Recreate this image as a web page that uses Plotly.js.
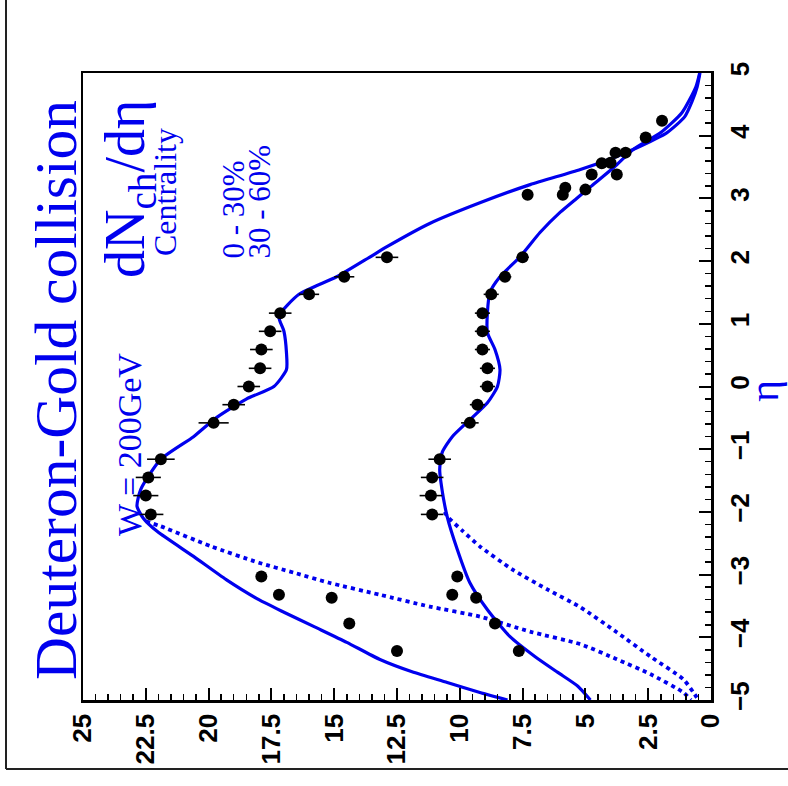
<!DOCTYPE html>
<html>
<head>
<meta charset="utf-8">
<script src="https://cdn.plot.ly/plotly-3.0.1.min.js"></script>
<style>
html,body{margin:0;padding:0;background:#fff;width:788px;height:786px;overflow:hidden;}
#plot{position:absolute;left:0;top:0;width:788px;height:786px;}
</style>
</head>
<body>
<div id="plot"></div>
<script>
// ---- data: pseudorapidity eta and dN_ch/d eta ----
// 0-30% centrality measured points
const etaA = [-4.22, -3.78, -3.37, -3.32, -3.03, -2.04, -1.74, -1.45, -1.16, -0.58, -0.29, 0.0, 0.29, 0.59, 0.88, 1.17, 1.47, 1.75, 2.06, 3.06, 3.17, 3.38, 3.56, 3.73, 3.97, 4.24];
const dnA  = [12.5, 14.4, 15.1, 17.2, 17.9, 22.3, 22.5, 22.4, 21.9, 19.8, 19.0, 18.4, 17.95, 17.9, 17.55, 17.15, 16.0, 14.6, 12.9, 7.3, 5.8, 4.75, 4.35, 3.8, 2.6, 1.95];
const errA = [0, 0, 0, 0, 0, 0.5, 0.5, 0.5, 0.55, 0.6, 0.45, 0.45, 0.45, 0.45, 0.45, 0.45, 0.4, 0.4, 0.45, 0, 0, 0, 0, 0, 0, 0];
// 30-60% centrality measured points
const etaB = [-4.22, -3.78, -3.37, -3.32, -3.03, -2.04, -1.74, -1.45, -1.16, -0.58, -0.29, 0.0, 0.29, 0.59, 0.88, 1.17, 1.47, 1.75, 2.06, 3.06, 3.14, 3.38, 3.57, 3.73];
const dnB  = [7.65, 8.6, 9.35, 10.3, 10.1, 11.1, 11.15, 11.1, 10.8, 9.6, 9.3, 8.9, 8.9, 9.1, 9.1, 9.1, 8.75, 8.2, 7.5, 5.9, 5.0, 3.75, 4.0, 3.4];
const errB = [0, 0, 0, 0, 0, 0.45, 0.45, 0.45, 0.45, 0.35, 0.3, 0.3, 0.3, 0.3, 0.3, 0.3, 0.3, 0.25, 0.25, 0, 0, 0, 0, 0];
// model curves (solid)
const curveEtaA = [-5.0, -4.88, -4.72, -4.55, -4.35, -4.08, -3.83, -3.6, -3.40, -3.08, -2.71, -2.31, -2.1, -1.91, -1.64, -1.16, -0.8, -0.5, -0.2, 0.0, 0.27, 0.54, 0.88, 1.12, 1.47, 1.75, 2.06, 2.23, 2.6, 2.93, 3.22, 3.46, 3.67, 3.78, 4.05, 4.3, 4.55, 4.78, 5.0];
const curveDnA  = [8.1, 9.2, 10.5, 11.9, 13.2, 14.5, 15.8, 17.0, 18.0, 19.3, 20.6, 22.05, 22.6, 22.85, 22.7, 21.9, 20.6, 19.7, 18.5, 17.4, 16.9, 16.9, 17.0, 17.2, 16.4, 14.9, 13.6, 12.9, 11.2, 9.2, 7.2, 5.2, 3.75, 3.1, 1.75, 1.05, 0.75, 0.55, 0.44];
const curveEtaB = [-5.0, -4.78, -4.56, -4.31, -3.99, -3.56, -3.13, -2.6, -2.08, -1.53, -1.32, -1.05, -0.8, -0.53, -0.26, 0.0, 0.27, 0.59, 0.86, 1.18, 1.5, 1.75, 2.07, 2.46, 2.78, 3.0, 3.2, 3.5, 3.78, 4.05, 4.37, 4.78, 5.0];
const curveDnB  = [4.8, 5.3, 6.1, 7.0, 8.0, 8.9, 9.6, 10.1, 10.5, 10.75, 10.8, 10.7, 10.3, 9.6, 8.9, 8.5, 8.4, 8.6, 8.9, 8.9, 8.8, 8.4, 7.6, 6.8, 6.0, 5.35, 4.75, 3.85, 3.1, 2.0, 1.15, 0.6, 0.45];
// model components (dotted)
const dotEtaA = [-2.15, -2.23, -2.55, -2.81, -2.97, -3.13, -3.32, -3.51, -3.67, -3.91, -4.11, -4.35, -4.59, -4.88, -5.0];
const dotDnA  = [22.5, 21.9, 19.9, 18.0, 16.6, 15.2, 13.2, 11.2, 9.2, 7.2, 5.2, 3.75, 2.4, 1.1, 0.8];
const dotEtaB = [-2.0, -2.07, -2.3, -2.55, -2.92, -3.24, -3.52, -3.92, -4.31, -4.67, -4.88, -5.0];
const dotDnB  = [10.6, 10.5, 9.9, 9.2, 7.9, 6.5, 5.2, 3.75, 2.4, 1.1, 0.7, 0.5];
// tick values
const dnTicks = [0, 2.5, 5, 7.5, 10, 12.5, 15, 17.5, 20, 22.5, 25];
const etaTicks = [-5, -4, -3, -2, -1, 0, 1, 2, 3, 4, 5];

const BLUE = 'rgb(0,0,238)';
const W = 788, H = 786;
const M = {l: 83, r: 77, t: 73, b: 86};
const PW = W - M.l - M.r, PH = H - M.t - M.b;
const px = X => (X - M.l) / PW;
const py = Y => (H - M.b - Y) / PH;

const curve = (x, y, dash, w) => ({type: 'scatter', mode: 'lines', x: x, y: y, hoverinfo: 'skip',
  line: {color: BLUE, width: w || 3.2, shape: 'spline', smoothing: 0.6, dash: dash || 'solid'}});
const pts = (x, y, e) => ({type: 'scatter', mode: 'markers', x: x, y: y,
  marker: {color: 'black', size: 12}, error_x: {type: 'data', array: e, visible: true, color: 'black', thickness: 1.6, width: 0}});

const traces = [
  curve(curveDnA, curveEtaA),
  curve(curveDnB, curveEtaB),
  curve(dotDnA, dotEtaA, '4px,4px', 3.8),
  curve(dotDnB, dotEtaB, '4px,4px', 3.8),
  pts(dnA, etaA, errA),
  pts(dnB, etaB, errB)
];

const tickfont = {family: 'Liberation Sans', size: 26, color: 'black', weight: 'bold'};
const serif = 'Liberation Serif';
const ann = (text, X, Y, size, xa, ya) => ({text: text, xref: 'paper', yref: 'paper', x: px(X), y: py(Y),
  xanchor: xa, yanchor: ya, showarrow: false, textangle: -90, borderpad: 0,
  font: {family: serif, size: size, color: BLUE}});

const layout = {
  width: W, height: H, margin: M, showlegend: false,
  paper_bgcolor: 'white', plot_bgcolor: 'white',
  xaxis: {range: [25, 0], tickvals: dnTicks, ticks: 'inside', ticklen: 12, tickwidth: 2, tickcolor: 'black',
    minor: {dtick: 0.5, tick0: 0, ticks: 'inside', ticklen: 6, tickwidth: 1.5, tickcolor: 'black'},
    showline: true, linewidth: 2.5, linecolor: 'black', mirror: true, showgrid: false, zeroline: false,
    tickangle: -90, tickfont: tickfont, ticklabelstandoff: 1},
  yaxis: {range: [-5, 5], side: 'right', tickvals: etaTicks, ticks: 'inside', ticklen: 12, tickwidth: 2, tickcolor: 'black',
    minor: {dtick: 0.2, tick0: 0, ticks: 'inside', ticklen: 6, tickwidth: 1.5, tickcolor: 'black'},
    showline: true, linewidth: 2.5, linecolor: 'black', mirror: true, showgrid: false, zeroline: false,
    tickangle: -90, tickfont: tickfont, ticklabelstandoff: 4},
  annotations: [
    ann('Deuteron-Gold collision', 56, 390, 59.5, 'center', 'middle'),
    ann('dN<sub>ch</sub>/dη', 93, 279, 56, 'left', 'bottom'),
    ann('Centrality', 146, 257, 32, 'left', 'bottom'),
    ann('W = 200GeV', 110, 537, 34, 'left', 'bottom'),
    ann('0 - 30%', 214, 260, 31, 'left', 'bottom'),
    ann('30 - 60%', 240, 260, 31, 'left', 'bottom'),
    ann('η', 740, 391, 42, 'left', 'middle')
  ],
  shapes: [
    {type: 'line', xref: 'paper', yref: 'paper', x0: px(6), x1: px(6), y0: py(0), y1: py(769), line: {color: '#222', width: 2}},
    {type: 'line', xref: 'paper', yref: 'paper', x0: px(6), x1: px(790), y0: py(769), y1: py(769), line: {color: '#222', width: 2}}
  ]
};

Plotly.newPlot('plot', traces, layout, {displayModeBar: false, staticPlot: true});
</script>
</body>
</html>
